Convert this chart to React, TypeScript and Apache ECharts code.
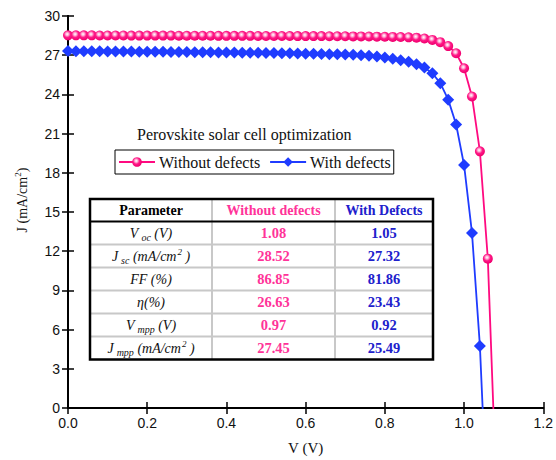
import React, { useEffect, useRef } from "react";
import * as echarts from "echarts";

const voltagePink = [
  0.0, 0.02, 0.04, 0.06, 0.08, 0.1, 0.12, 0.14, 0.16, 0.18, 0.2, 0.22, 0.24, 0.26, 0.28, 0.3,
  0.32, 0.34, 0.36, 0.38, 0.4, 0.42, 0.44, 0.46, 0.48, 0.5, 0.52, 0.54, 0.56, 0.58, 0.6, 0.62,
  0.64, 0.66, 0.68, 0.7, 0.72, 0.74, 0.76, 0.78, 0.8, 0.82, 0.84, 0.86, 0.88, 0.9, 0.92, 0.94,
  0.96, 0.98, 1.0, 1.02, 1.04, 1.06, 1.08,
];
const currentPink = [
  28.52, 28.52, 28.52, 28.52, 28.51, 28.51, 28.51, 28.51, 28.5, 28.5, 28.5, 28.5, 28.5, 28.5,
  28.49, 28.49, 28.49, 28.49, 28.49, 28.48, 28.48, 28.48, 28.48, 28.48, 28.47, 28.47, 28.47,
  28.47, 28.47, 28.46, 28.46, 28.46, 28.46, 28.45, 28.45, 28.45, 28.44, 28.44, 28.43, 28.42,
  28.41, 28.4, 28.39, 28.37, 28.34, 28.28, 28.17, 28.0, 27.7, 27.15, 26.0, 23.84, 19.64, 11.43,
  -5.0,
];
const voltageBlue = [
  0.0, 0.02, 0.04, 0.06, 0.08, 0.1, 0.12, 0.14, 0.16, 0.18, 0.2, 0.22, 0.24, 0.26, 0.28, 0.3,
  0.32, 0.34, 0.36, 0.38, 0.4, 0.42, 0.44, 0.46, 0.48, 0.5, 0.52, 0.54, 0.56, 0.58, 0.6, 0.62,
  0.64, 0.66, 0.68, 0.7, 0.72, 0.74, 0.76, 0.78, 0.8, 0.82, 0.84, 0.86, 0.88, 0.9, 0.92, 0.94,
  0.96, 0.98, 1.0, 1.02, 1.04, 1.06,
];
const currentBlue = [
  27.32, 27.31, 27.31, 27.3, 27.3, 27.29, 27.29, 27.28, 27.28, 27.27, 27.27, 27.26, 27.26,
  27.25, 27.25, 27.24, 27.23, 27.23, 27.22, 27.21, 27.21, 27.2, 27.19, 27.18, 27.18, 27.17,
  27.16, 27.15, 27.14, 27.13, 27.12, 27.11, 27.1, 27.08, 27.07, 27.05, 27.03, 27.0, 26.96,
  26.9, 26.82, 26.72, 26.62, 26.5, 26.3, 26.05, 25.62, 24.86, 23.6, 21.7, 18.6, 13.4, 4.75,
  -9.0,
];

const seriesNames = ["Without defects", "With defects"];
const chartTitle = "Perovskite solar cell optimization";

const tableHeader = ["Parameter", "Without defects", "With Defects"];
const tableParams = [
  "{i|V}{sub|oc}{i| (V)}",
  "{i|J}{sub|sc}{i| (mA/cm}{sup|2}{i| )}",
  "{i|FF (%)}",
  "{i|η(%)}",
  "{i|V}{sub|mpp}{i| (V)}",
  "{i|J}{sub|mpp}{i| (mA/cm}{sup|2}{i| )}",
];
const tableWithout = ["1.08", "28.52", "86.85", "26.63", "0.97", "27.45"];
const tableWith = ["1.05", "27.32", "81.86", "23.43", "0.92", "25.49"];

const PINK = "#ff0a80";
const BLUE = "#1f3cff";
const PINK_TXT = "#ff3399";
const BLUE_TXT = "#2020cc";
const SERIF = "'Liberation Serif', 'Times New Roman', serif";
const SANS = "'Liberation Sans', Arial, sans-serif";

export default function App() {
  const ref = useRef<HTMLDivElement>(null);
  useEffect(() => {
    if (!ref.current) return;
    const chart = echarts.init(ref.current, null, { renderer: "svg" });

    const pinkGrad = new echarts.graphic.RadialGradient(0.42, 0.38, 0.6, [
      { offset: 0, color: "#ffffff" },
      { offset: 0.25, color: "#ffb0d5" },
      { offset: 0.55, color: "#ff1a88" },
      { offset: 1, color: "#f0006e" },
    ]);

    // table layout
    const tx = 90;
    const ty = 199;
    const colX = [90, 212, 335, 433];
    const headH = 22.5;
    const rowH = 23;
    const tw = colX[3] - colX[0];
    const th = headH + rowH * tableParams.length;
    const cx = [(colX[0] + colX[1]) / 2, (colX[1] + colX[2]) / 2, (colX[2] + colX[3]) / 2];
    const graphics: any[] = [];
    graphics.push({
      type: "rect",
      shape: { x: tx, y: ty, width: tw, height: th },
      style: { fill: "#fff", stroke: "none" },
      z: 10,
    });
    for (let k = 1; k < tableParams.length; k++) {
      const y = ty + headH + rowH * k;
      graphics.push({
        type: "line",
        shape: { x1: tx, y1: y, x2: tx + tw, y2: y },
        style: { stroke: "#c8c8c8", lineWidth: 2 },
        z: 11,
      });
    }
    [colX[1], colX[2]].forEach((x) => {
      graphics.push({
        type: "line",
        shape: { x1: x, y1: ty, x2: x, y2: ty + th },
        style: { stroke: "#c8c8c8", lineWidth: 2 },
        z: 11,
      });
    });
    graphics.push({
      type: "line",
      shape: { x1: tx, y1: ty + headH, x2: tx + tw, y2: ty + headH },
      style: { stroke: "#000", lineWidth: 2 },
      z: 12,
    });
    graphics.push({
      type: "rect",
      shape: { x: tx, y: ty, width: tw, height: th },
      style: { fill: "none", stroke: "#000", lineWidth: 2.5 },
      z: 13,
    });
    const headColors = ["#000", PINK_TXT, BLUE_TXT];
    tableHeader.forEach((h, i) => {
      graphics.push({
        type: "text",
        x: cx[i],
        y: ty + headH / 2,
        z: 14,
        style: {
          text: h,
          fill: headColors[i],
          font: `bold 14px ${SERIF}`,
          align: "center",
          verticalAlign: "middle",
        },
      });
    });
    tableParams.forEach((p, r) => {
      const y = ty + headH + rowH * r + rowH / 2;
      graphics.push({
        type: "text",
        x: cx[0],
        y,
        z: 14,
        style: {
          text: p,
          align: "center",
          verticalAlign: "middle",
          rich: {
            i: { fontFamily: SERIF, fontStyle: "italic", fontSize: 14, fill: "#111", color: "#111" },
            sub: {
              fontFamily: SERIF,
              fontStyle: "italic",
              fontSize: 10,
              fill: "#111",
              color: "#111",
              padding: [8, 0, 0, 3],
            },
            sup: {
              fontFamily: SERIF,
              fontStyle: "italic",
              fontSize: 9,
              fill: "#111",
              color: "#111",
              padding: [0, 0, 9, 1],
            },
          },
        },
      });
      graphics.push({
        type: "text",
        x: cx[1],
        y,
        z: 14,
        style: {
          text: tableWithout[r],
          fill: PINK_TXT,
          font: `bold 14.5px ${SERIF}`,
          align: "center",
          verticalAlign: "middle",
        },
      });
      graphics.push({
        type: "text",
        x: cx[2],
        y,
        z: 14,
        style: {
          text: tableWith[r],
          fill: BLUE_TXT,
          font: `bold 14.5px ${SERIF}`,
          align: "center",
          verticalAlign: "middle",
        },
      });
    });
    // y axis name
    graphics.push({
      type: "text",
      x: 22,
      y: 200,
      rotation: Math.PI / 2,
      style: {
        text: "{n|J (mA/cm}{s|2}{n|)}",
        align: "center",
        verticalAlign: "middle",
        rich: {
          n: { fontFamily: SERIF, fontSize: 14, fill: "#111", color: "#111" },
          s: { fontFamily: SERIF, fontSize: 9, fill: "#111", color: "#111", padding: [0, 0, 8, 0] },
        },
      },
    });

    const axisLine = { show: true, lineStyle: { color: "#000", width: 2 } };
    const tick = { show: true, inside: true, length: 6, lineStyle: { color: "#000", width: 1.5 } };

    chart.setOption({
      animation: false,
      title: {
        text: chartTitle,
        left: 137,
        top: 126,
        padding: 0,
        textStyle: { fontFamily: SERIF, fontSize: 16, fontWeight: "normal", color: "#111" },
      },
      legend: {
        data: seriesNames,
        left: 115,
        top: 150,
        orient: "horizontal",
        borderColor: "#000",
        borderWidth: 1,
        padding: [4, 3, 4, 3],
        itemGap: 9,
        itemWidth: 36,
        itemHeight: 12,
        textStyle: { fontFamily: SERIF, fontSize: 16, color: "#111", padding: [0, 0, 0, -1] },
      },
      grid: { left: 68, right: 10.5, top: 16, bottom: 51.5, containLabel: false },
      xAxis: [
        {
          type: "value",
          min: 0,
          max: 1.2,
          interval: 0.2,
          position: "bottom",
          name: "V (V)",
          nameLocation: "middle",
          nameGap: 32,
          nameTextStyle: { fontFamily: SERIF, fontSize: 15, color: "#111" },
          axisLine,
          axisTick: tick,
          splitLine: { show: false },
          axisLabel: {
            margin: 8,
            fontFamily: SANS,
            fontSize: 14,
            color: "#111",
            formatter: (v: number) => v.toFixed(1),
          },
        },
        {
          type: "value",
          min: 0,
          max: 1.2,
          interval: 0.2,
          position: "top",
          axisLine,
          axisTick: tick,
          splitLine: { show: false },
          axisLabel: { show: false },
        },
      ],
      yAxis: [
        {
          type: "value",
          min: 0,
          max: 30,
          interval: 3,
          position: "left",
          axisLine,
          axisTick: tick,
          splitLine: { show: false },
          axisLabel: { margin: 8, fontFamily: SANS, fontSize: 14, color: "#111" },
        },
        {
          type: "value",
          min: 0,
          max: 30,
          interval: 3,
          position: "right",
          axisLine,
          axisTick: tick,
          splitLine: { show: false },
          axisLabel: { show: false },
        },
      ],
      series: [
        {
          name: seriesNames[0],
          type: "line",
          data: voltagePink.map((v, i) => [v, currentPink[i]]),
          symbol: "circle",
          symbolSize: 10,
          showAllSymbol: true,
          clip: true,
          lineStyle: { color: PINK, width: 1.8 },
          itemStyle: { color: pinkGrad, borderWidth: 0 },
          z: 3,
        },
        {
          name: seriesNames[1],
          type: "line",
          data: voltageBlue.map((v, i) => [v, currentBlue[i]]),
          symbol: "diamond",
          symbolSize: 12,
          showAllSymbol: true,
          clip: true,
          lineStyle: { color: BLUE, width: 1.8 },
          itemStyle: { color: BLUE, borderWidth: 0 },
          z: 3,
        },
      ],
      graphic: graphics,
    });
    return () => chart.dispose();
  }, []);
  return (
    <div
      ref={ref}
      style={{ position: "fixed", left: 0, top: 0, width: 556, height: 460, background: "#fff" }}
    />
  );
}
